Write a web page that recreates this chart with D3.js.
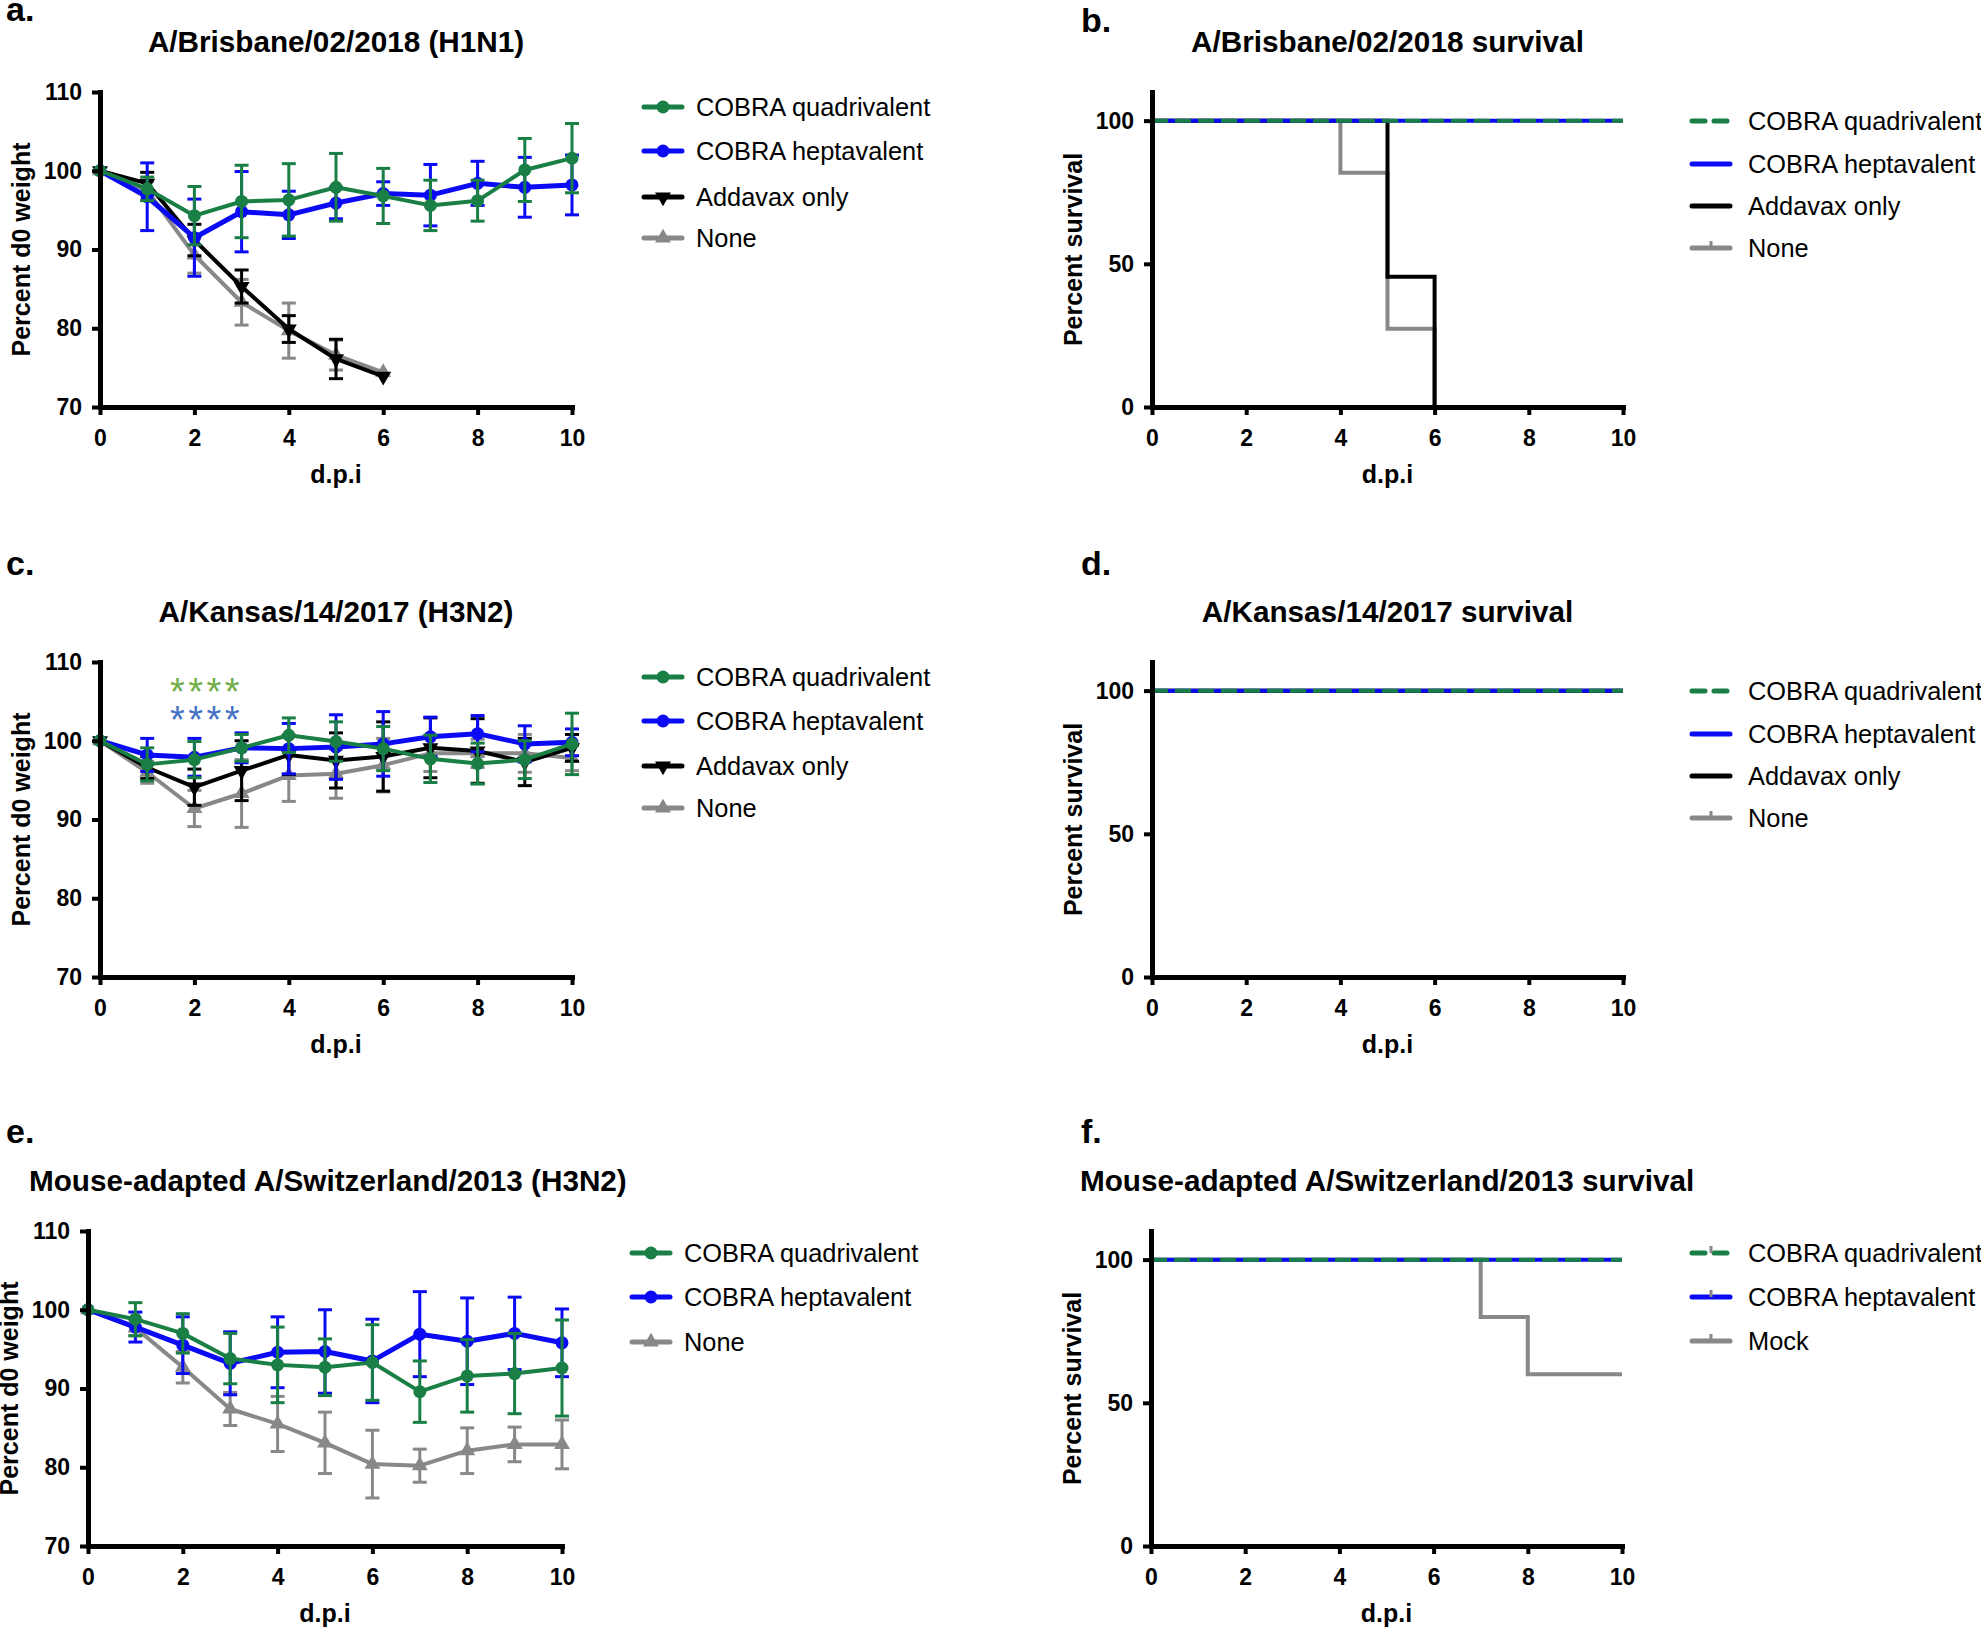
<!DOCTYPE html>
<html>
<head>
<meta charset="utf-8">
<script src="https://cdn.jsdelivr.net/npm/d3@7"></script>
<style>
body { margin: 0; background: #fff; }
text { font-family: "Liberation Sans", Arial, sans-serif; }
</style>
</head>
<body>
<script>
// ---- data ----
const days = [0, 1, 2, 3, 4, 5, 6, 7, 8, 9, 10];
const weightTicks = [70, 80, 90, 100, 110];
const survivalTicks = [0, 50, 100];
const dayTicks = [0, 2, 4, 6, 8, 10];

const weightLabels = ["COBRA quadrivalent", "COBRA heptavalent", "Addavax only", "None"];
const weightLabelsE = ["COBRA quadrivalent", "COBRA heptavalent", "None"];
const survivalLabelsF = ["COBRA quadrivalent", "COBRA heptavalent", "Mock"];

// a. A/Brisbane/02/2018 (H1N1)
const aQuadMean = [100, 97.7, 94.3, 96.1, 96.3, 97.9, 96.8, 95.6, 96.2, 100.1, 101.6];
const aQuadSd   = [0, 1.5, 3.7, 4.6, 4.6, 4.3, 3.5, 3.2, 2.6, 4.0, 4.4];
const aHeptMean = [100, 96.7, 91.5, 94.8, 94.4, 95.9, 97.1, 96.9, 98.4, 97.9, 98.2];
const aHeptSd   = [0, 4.3, 4.9, 5.1, 3.0, 2.0, 1.5, 3.9, 2.8, 3.8, 3.8];
const aAddMean  = [100, 98.4, 91.2, 85.3, 79.9, 76.1, 73.9];
const aAddSd    = [0, 1.4, 2.0, 2.1, 1.7, 2.5, 0];
const aNoneMean = [100, 97.5, 89.3, 83.3, 79.7, 76.6, 74.4];
const aNoneSd   = [0, 1.2, 2.3, 2.9, 3.5, 1.9, 0];

// c. A/Kansas/14/2017 (H3N2)
const cQuadMean = [100, 97.0, 97.6, 99.1, 100.7, 99.9, 99.0, 97.7, 97.1, 97.6, 99.6];
const cQuadSd   = [0, 2.1, 2.3, 1.7, 2.2, 2.5, 2.8, 3.0, 2.6, 2.4, 3.9];
const cHeptMean = [100, 98.2, 97.9, 99.1, 99.0, 99.2, 99.6, 100.5, 100.9, 99.6, 99.8];
const cHeptSd   = [0, 2.1, 2.4, 1.9, 3.2, 4.1, 4.1, 2.5, 2.3, 2.3, 1.7];
const cAddMean  = [100, 96.6, 94.1, 96.2, 98.2, 97.5, 98.0, 99.1, 98.7, 97.3, 99.1];
const cAddSd    = [0, 1.4, 2.3, 3.8, 2.5, 3.5, 4.4, 3.8, 4.1, 3.0, 1.7];
const cNoneMean = [100, 96.0, 91.4, 93.3, 95.6, 95.8, 96.9, 98.4, 98.4, 98.4, 97.8];
const cNoneSd   = [0, 1.4, 2.3, 4.3, 3.3, 3.1, 3.4, 2.3, 1.8, 2.4, 1.6];

// e. Mouse-adapted A/Switzerland/2013 (H3N2)
const eQuadMean = [100, 98.8, 97.0, 93.8, 93.0, 92.7, 93.3, 89.6, 91.6, 91.9, 92.6];
const eQuadSd   = [0, 2.1, 2.5, 3.2, 4.8, 3.6, 4.8, 3.9, 4.6, 5.1, 6.1];
const eHeptMean = [100, 97.8, 95.5, 93.2, 94.6, 94.7, 93.5, 96.9, 96.0, 97.0, 95.8];
const eHeptSd   = [0, 1.9, 3.6, 4.0, 4.5, 5.3, 5.3, 5.4, 5.5, 4.6, 4.3];
const eNoneMean = [100, 97.7, 92.7, 87.4, 85.5, 83.1, 80.4, 80.2, 82.1, 82.9, 82.9];
const eNoneSd   = [0, 1.0, 2.0, 2.1, 3.5, 3.9, 4.3, 2.1, 2.9, 2.2, 3.1];

// survival curves (step points)
const bQuadDays = [0, 10], bQuadSurv = [100, 100];
const bHeptDays = [0, 10], bHeptSurv = [100, 100];
const bAddDays  = [0, 5, 6], bAddSurv = [100, 45.5, 0];
const bNoneDays = [0, 4, 5, 6], bNoneSurv = [100, 81.8, 27.3, 0];

const dQuadDays = [0, 10], dQuadSurv = [100, 100];
const dHeptDays = [0, 10], dHeptSurv = [100, 100];
const dAddDays  = [0, 10], dAddSurv = [100, 100];
const dNoneDays = [0, 10], dNoneSurv = [100, 100];

const fQuadDays = [0, 10], fQuadSurv = [100, 100];
const fHeptDays = [0, 10], fHeptSurv = [100, 100];
const fMockDays = [0, 7, 8, 10], fMockSurv = [100, 80, 60, 60];

// ---- styles ----
const green = "#1a7f45";
const blue = "#0a0af5";
const black = "#000000";
const gray = "#888888";

const svg = d3.select("body")
    .append("svg")
    .attr("width", 1981)
    .attr("height", 1630);

function zip(xs, ys) {
    return xs.map((x, i) => ({ x: x, y: ys[i] }));
}

function panelLabel(txt, x, y) {
    svg.append("text")
        .attr("x", x).attr("y", y)
        .attr("font-size", 34).attr("font-weight", "bold")
        .text(txt);
}

function axes(g, x, y, yTicks, w, h, yTitle) {
    let bottom = d3.axisBottom(x).tickValues(dayTicks).tickSize(8).tickSizeOuter(0).tickPadding(15);
    let left = d3.axisLeft(y).tickValues(yTicks).tickSize(8).tickSizeOuter(0).tickPadding(10);

    let gx = g.append("g").attr("transform", `translate(0,${h})`).call(bottom);
    let gy = g.append("g").call(left);
    [gx, gy].forEach(a => {
        a.select(".domain").attr("stroke-width", 5).attr("stroke-linecap", "square");
        a.selectAll(".tick line").attr("stroke-width", 4);
        a.selectAll(".tick text")
            .attr("font-size", 23).attr("font-weight", "bold")
            .attr("font-family", "'Liberation Sans', Arial, sans-serif")
            .attr("fill", "#000");
    });

    g.append("text")
        .attr("transform", `translate(-70,${h / 2}) rotate(-90)`)
        .attr("text-anchor", "middle")
        .attr("font-size", 25).attr("font-weight", "bold")
        .text(yTitle);

    g.append("text")
        .attr("x", w / 2).attr("y", h + 76)
        .attr("text-anchor", "middle")
        .attr("font-size", 25).attr("font-weight", "bold")
        .text("d.p.i");
}

function marker(sel, type, color) {
    if (type === "circle") {
        sel.append("circle").attr("r", 6.5).attr("fill", color);
    } else {
        let p = sel.append("path")
            .attr("d", d3.symbol(d3.symbolTriangle).size(110)())
            .attr("fill", color);
        if (type === "down") p.attr("transform", "rotate(180)");
    }
}

function panelTitle(box, w, title, titleAnchor) {
    let t = svg.append("text")
        .attr("y", box.y0 - 40)
        .attr("font-size", 29.7).attr("font-weight", "bold")
        .text(title);
    if (titleAnchor === "middle") t.attr("x", box.x0 + w / 2).attr("text-anchor", "middle");
    else t.attr("x", titleAnchor);
}

function weightPanel(box, series, title, titleAnchor, legendX, legendY, labels) {
    let w = box.x1 - box.x0, h = box.y1 - box.y0;
    let g = svg.append("g").attr("transform", `translate(${box.x0},${box.y0})`);
    let x = d3.scaleLinear().domain([0, 10]).range([0, w]);
    let y = d3.scaleLinear().domain([70, 110]).range([h, 0]);

    series.forEach(s => {
        let pts = s.mean.map((m, i) => ({ x: days[i], y: m, sd: s.sd[i] }));
        let eb = g.append("g").attr("stroke", s.color).attr("stroke-width", 3);
        pts.filter(p => p.sd > 0).forEach(p => {
            eb.append("line").attr("x1", x(p.x)).attr("x2", x(p.x))
                .attr("y1", y(p.y - p.sd)).attr("y2", y(p.y + p.sd));
            [p.y - p.sd, p.y + p.sd].forEach(v => {
                eb.append("line").attr("x1", x(p.x) - 7).attr("x2", x(p.x) + 7)
                    .attr("y1", y(v)).attr("y2", y(v));
            });
        });
        g.append("path")
            .datum(pts)
            .attr("fill", "none")
            .attr("stroke", s.color)
            .attr("stroke-width", s.width)
            .attr("stroke-linejoin", "round")
            .attr("d", d3.line().x(d => x(d.x)).y(d => y(d.y)));
        pts.forEach(p => {
            let m = g.append("g").attr("transform", `translate(${x(p.x)},${y(p.y)})`);
            marker(m, s.marker, s.color);
        });
    });

    axes(g, x, y, weightTicks, w, h, "Percent d0 weight");
    panelTitle(box, w, title, titleAnchor);

    // legend, drawn in the order of the label list
    let legendSeries = series.slice().sort((a, b) => a.order - b.order);
    legendSeries.forEach((s, i) => {
        let lg = svg.append("g").attr("transform", `translate(${legendX},${legendY[i]})`);
        lg.append("line").attr("x1", 0).attr("x2", 38).attr("stroke", s.color).attr("stroke-width", 5)
            .attr("stroke-linecap", "round");
        let m = lg.append("g").attr("transform", "translate(19,0)");
        marker(m, s.marker, s.color);
        lg.append("text").attr("x", 52).attr("dy", "0.35em").attr("font-size", 25.4).text(labels[i]);
    });
}

function survivalPanel(box, series, title, titleAnchor, legendX, legendY, labels) {
    let w = box.x1 - box.x0, h = box.y1 - box.y0;
    let g = svg.append("g").attr("transform", `translate(${box.x0},${box.y0})`);
    let x = d3.scaleLinear().domain([0, 10]).range([0, w]);
    let y = d3.scaleLinear().domain([0, 110]).range([h, 0]);
    let step = d3.line().x(d => x(d.x)).y(d => y(d.y)).curve(d3.curveStepAfter);

    series.forEach(s => {
        g.append("path")
            .datum(zip(s.days, s.surv))
            .attr("fill", "none")
            .attr("stroke", s.color)
            .attr("stroke-width", 4)
            .attr("stroke-dasharray", s.dash || null)
            .attr("d", step);
    });

    axes(g, x, y, survivalTicks, w, h, "Percent survival");
    panelTitle(box, w, title, titleAnchor);

    let legendSeries = series.slice().sort((a, b) => a.order - b.order);
    legendSeries.forEach((s, i) => {
        let lg = svg.append("g").attr("transform", `translate(${legendX},${legendY[i]})`);
        lg.append("line").attr("x1", 0).attr("x2", 38).attr("stroke", s.color).attr("stroke-width", 5)
            .attr("stroke-linecap", "round")
            .attr("stroke-dasharray", s.dash ? "13,9" : null);
        if (s.tick) {
            lg.append("line").attr("x1", 19).attr("x2", 19).attr("y1", -7).attr("y2", 0)
                .attr("stroke", gray).attr("stroke-width", 3);
        }
        lg.append("text").attr("x", 56).attr("dy", "0.35em").attr("font-size", 25.4).text(labels[i]);
    });
}

// ---- panel a ----
panelLabel("a.", 6, 21);
weightPanel({ x0: 100, x1: 572, y0: 92, y1: 407 }, [
    { mean: aNoneMean, sd: aNoneSd, color: gray, marker: "up", width: 4, order: 3 },
    { mean: aAddMean, sd: aAddSd, color: black, marker: "down", width: 4, order: 2 },
    { mean: aHeptMean, sd: aHeptSd, color: blue, marker: "circle", width: 5, order: 1 },
    { mean: aQuadMean, sd: aQuadSd, color: green, marker: "circle", width: 4, order: 0 }
], "A/Brisbane/02/2018 (H1N1)", "middle", 644, [107, 151, 197, 238], weightLabels);

// ---- panel b ----
panelLabel("b.", 1081, 32);
survivalPanel({ x0: 1152, x1: 1623, y0: 92, y1: 407 }, [
    { days: bNoneDays, surv: bNoneSurv, color: gray, order: 3, tick: true },
    { days: bAddDays, surv: bAddSurv, color: black, order: 2 },
    { days: bHeptDays, surv: bHeptSurv, color: blue, order: 1 },
    { days: bQuadDays, surv: bQuadSurv, color: green, dash: "16,7", order: 0 }
], "A/Brisbane/02/2018 survival", "middle", 1692, [121, 164, 206, 248], weightLabels);

// ---- panel c ----
panelLabel("c.", 6, 575);
weightPanel({ x0: 100, x1: 572, y0: 662, y1: 977 }, [
    { mean: cNoneMean, sd: cNoneSd, color: gray, marker: "up", width: 4, order: 3 },
    { mean: cAddMean, sd: cAddSd, color: black, marker: "down", width: 4, order: 2 },
    { mean: cHeptMean, sd: cHeptSd, color: blue, marker: "circle", width: 5, order: 1 },
    { mean: cQuadMean, sd: cQuadSd, color: green, marker: "circle", width: 4, order: 0 }
], "A/Kansas/14/2017 (H3N2)", "middle", 644, [677, 721, 766, 808], weightLabels);

// significance stars over day 2
svg.append("text").attr("x", 170).attr("y", 705)
    .attr("font-size", 38).attr("letter-spacing", 3.5).attr("fill", "#70ad47").text("****");
svg.append("text").attr("x", 170).attr("y", 733)
    .attr("font-size", 38).attr("letter-spacing", 3.5).attr("fill", "#4472c4").text("****");

// ---- panel d ----
panelLabel("d.", 1081, 575);
survivalPanel({ x0: 1152, x1: 1623, y0: 662, y1: 977 }, [
    { days: dNoneDays, surv: dNoneSurv, color: gray, order: 3, tick: true },
    { days: dAddDays, surv: dAddSurv, color: black, order: 2 },
    { days: dHeptDays, surv: dHeptSurv, color: blue, order: 1 },
    { days: dQuadDays, surv: dQuadSurv, color: green, dash: "16,7", order: 0 }
], "A/Kansas/14/2017 survival", "middle", 1692, [691, 734, 776, 818], weightLabels);

// ---- panel e ----
panelLabel("e.", 6, 1143);
weightPanel({ x0: 88, x1: 562, y0: 1231, y1: 1546 }, [
    { mean: eNoneMean, sd: eNoneSd, color: gray, marker: "up", width: 4, order: 2 },
    { mean: eHeptMean, sd: eHeptSd, color: blue, marker: "circle", width: 5, order: 1 },
    { mean: eQuadMean, sd: eQuadSd, color: green, marker: "circle", width: 4, order: 0 }
], "Mouse-adapted A/Switzerland/2013 (H3N2)", 29, 632, [1253, 1297, 1342], weightLabelsE);

// ---- panel f ----
panelLabel("f.", 1081, 1143);
survivalPanel({ x0: 1151, x1: 1622, y0: 1231, y1: 1546 }, [
    { days: fMockDays, surv: fMockSurv, color: gray, order: 2, tick: true },
    { days: fHeptDays, surv: fHeptSurv, color: blue, order: 1, tick: true },
    { days: fQuadDays, surv: fQuadSurv, color: green, dash: "16,7", order: 0, tick: true }
], "Mouse-adapted A/Switzerland/2013 survival", 1080, 1692, [1253, 1297, 1341], survivalLabelsF);
</script>
</body>
</html>
